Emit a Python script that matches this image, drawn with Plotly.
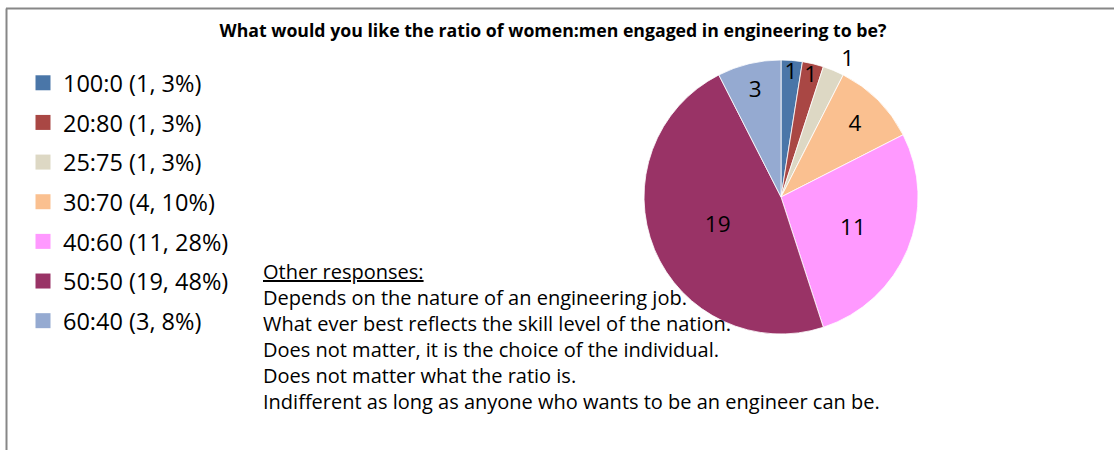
import math
import plotly.graph_objects as go

ratios = ["100:0", "20:80", "25:75", "30:70", "40:60", "50:50", "60:40"]
counts = [1, 1, 1, 4, 11, 19, 3]
sliceColors = ["#4A76A8", "#A94744", "#DDD8C4", "#FAC090", "#FF99FF", "#993366", "#95AAD1"]
labelPositions = ["inside", "inside", "outside", "inside", "inside", "inside", "inside"]

otherResponses = [
    "Depends on the nature of an engineering job.",
    "What ever best reflects the skill level of the nation.",
    "Does not matter, it is the choice of the individual.",
    "Does not matter what the ratio is.",
    "Indifferent as long as anyone who wants to be an engineer can be.",
]

total = sum(counts)
legendLabels = []
for ratio, count in zip(ratios, counts):
    percent = math.floor(count / total * 100 + 0.5)
    legendLabels.append("{} ({}, {}%)".format(ratio, count, percent))

fontName = "Open Sans"

fig = go.Figure()

fig.add_trace(go.Pie(
    labels=ratios,
    values=counts,
    sort=False,
    direction="clockwise",
    rotation=0,
    marker=dict(colors=sliceColors, line=dict(color="white", width=0.8)),
    textinfo="value",
    textposition=labelPositions,
    insidetextorientation="horizontal",
    textfont=dict(family=fontName, size=22.5, color="black"),
    showlegend=False,
    hoverinfo="label+value+percent",
    domain=dict(x=[0.5781, 0.8241], y=[0.2578, 0.8667]),
))

# legend entries (one trace each so the spacing between rows can be set)
for label, color in zip(legendLabels, sliceColors):
    fig.add_trace(go.Scatter(
        x=[None], y=[None],
        mode="markers",
        marker=dict(symbol="square", size=15, color=color),
        name=label,
        legendgroup=label,
        hoverinfo="skip",
    ))

responseText = "<u>Other responses:</u><br>" + "<br>".join(otherResponses)

fig.add_annotation(
    text=responseText,
    xref="paper", yref="paper",
    x=261 / 1114, y=1 - 256 / 450,
    xanchor="left", yanchor="top",
    align="left",
    showarrow=False,
    font=dict(family=fontName, size=20, color="black"),
)

# frame lines of the chart area
fig.add_shape(type="line", xref="paper", yref="paper",
              x0=6 / 1114, x1=1, y0=1 - 8.5 / 450, y1=1 - 8.5 / 450,
              line=dict(color="#878787", width=2))
fig.add_shape(type="line", xref="paper", yref="paper",
              x0=6.5 / 1114, x1=6.5 / 1114, y0=0, y1=1 - 8.5 / 450,
              line=dict(color="#878787", width=2))

fig.update_layout(
    width=1114,
    height=450,
    margin=dict(l=0, r=0, t=0, b=0),
    paper_bgcolor="white",
    plot_bgcolor="white",
    title=dict(
        text="<b>What would you like the ratio of women:men engaged in engineering to be?</b>",
        x=553 / 1114, xanchor="center",
        y=1 - 31 / 450, yanchor="middle",
        font=dict(family=fontName, size=17.7, color="black"),
    ),
    uniformtext=dict(minsize=22.5, mode="show"),
    xaxis=dict(visible=False),
    yaxis=dict(visible=False),
    legend=dict(
        x=23 / 1114, xanchor="left",
        y=1 - 61 / 450, yanchor="top",
        tracegroupgap=6.1,
        font=dict(family=fontName, size=23.5, color="black"),
        bgcolor="rgba(0,0,0,0)",
    ),
    showlegend=True,
)

fig.write_html("out.html", config={"displayModeBar": False},
               post_script="document.body.style.margin = '0';")
